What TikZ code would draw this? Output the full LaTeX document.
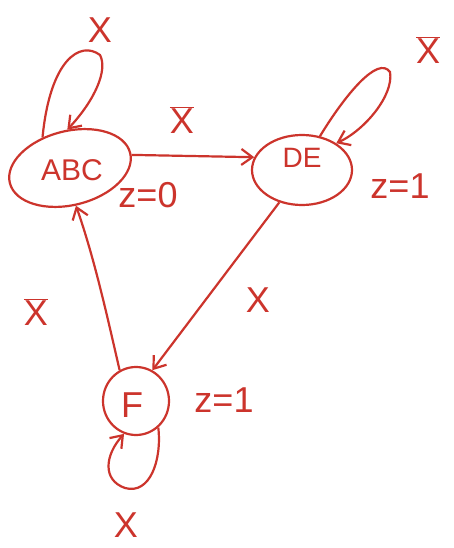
\documentclass[tikz,border=0pt]{standalone}
\usepackage{fontspec}
\setmainfont{Liberation Sans}
\usetikzlibrary{shapes.geometric,arrows.meta}
\definecolor{ink}{RGB}{204,52,44}
\newcommand{\nx}{$\overline{\mbox{X}}$}
\tikzset{
    state/.style={draw=ink, line width=2.2pt, ellipse, inner sep=0pt},
    lbl/.style={text=ink, font=\fontsize{36}{38}\selectfont},
    edge/.style={draw=ink, line width=2.2pt, -{Straight Barb[length=11pt,width=16pt,line width=2.2pt]}}
}
\begin{document}
\begin{tikzpicture}[x=1pt,y=-1pt]
    \useasboundingbox[fill=white] (0,0) rectangle (454,548);
    % states
    \node[state, minimum width=124pt, minimum height=74pt, rotate=14] (abc) at (70,168) {};
    \node[lbl, font=\fontsize{30}{32}\selectfont] (abct) at (72,170) {ABC};
    \node[state, minimum width=100pt, minimum height=70pt] (de) at (302,170) {};
    \node[lbl, font=\fontsize{28}{30}\selectfont] (det) at (302,158) {DE};
    \node[state, minimum width=66pt, minimum height=68pt] (f) at (136,401) {};
    \node[lbl] (ft) at (132,405) {F};
    % outputs
    \node[lbl] (z0) at (148,195) {z=0};
    \node[lbl] (z1) at (400,186) {z=1};
    \node[lbl] (z2) at (224,400) {z=1};
    % inputs
    \node[lbl] (xa) at (100,30) {X};
    \node[lbl] (xb) at (182,120) {\nx};
    \node[lbl] (xc) at (428,50) {\nx};
    \node[lbl] (xd) at (258,300) {X};
    \node[lbl] (xe) at (36,312) {\nx};
    \node[lbl] (xf) at (126,525) {X};
    % transitions
    \draw[edge] (abc.118) .. controls (50,60) and (80,40) .. (100,55) .. controls (108,70) and (95,100) .. (abc.80);
    \draw[edge] (abc.-2) -- (de.165);
    \draw[edge] (de.62) .. controls (345,95) and (378,55) .. (390,72) .. controls (394,95) and (365,130) .. (de.38);
    \draw[edge] (de.235) -- (f.62);
    \draw[edge] (f.118) .. controls (108,320) and (95,260) .. (abc.-95);
    \draw[edge] (f.-50) .. controls (162,460) and (150,495) .. (125,488) .. controls (102,480) and (105,455) .. (f.-110);
\end{tikzpicture}
\end{document}
